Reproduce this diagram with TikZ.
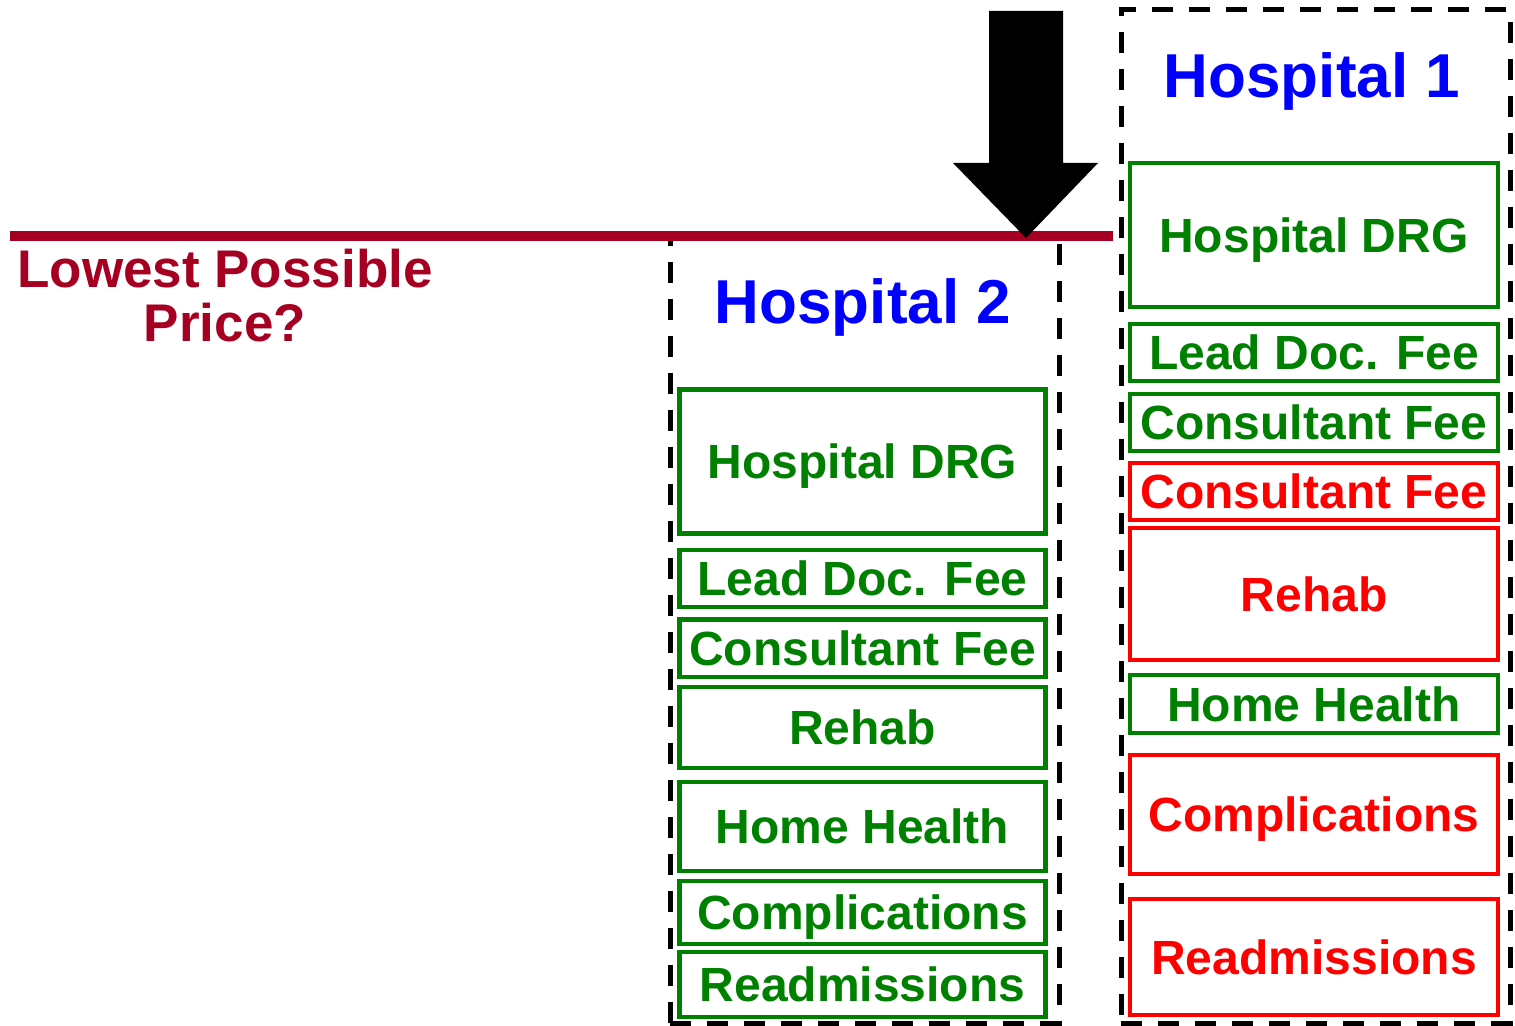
\documentclass[tikz,border=0pt]{standalone}
\usepackage{fontspec}
\setmainfont{Liberation Sans}
\definecolor{lpred}{RGB}{165,0,33}
\definecolor{boxgreen}{RGB}{0,128,0}
\definecolor{boxred}{RGB}{255,0,0}
\definecolor{headblue}{RGB}{0,0,255}
\tikzset{
  itembox/.style={draw, line width=2.4pt, inner sep=0pt, outer sep=0pt,
    font=\fontsize{24pt}{28pt}\selectfont\bfseries, text height=17.2pt, text depth=0pt},
  gbox/.style={itembox, draw=boxgreen, text=boxgreen},
  rbox/.style={itembox, draw=boxred, text=boxred},
  framebox/.style={draw=black, line width=2.5pt, dash pattern=on 10.5pt off 8pt, inner sep=0pt, minimum width=194.5pt},
  headtxt/.style={text=headblue, inner sep=0pt, font=\fontsize{31pt}{37pt}\selectfont\bfseries, text height=22.2pt, text depth=0pt}
}
\begin{document}
\begin{tikzpicture}[x=0.5pt,y=-0.5pt]
\useasboundingbox (0,0) rectangle (1515,1026);
% dashed frames
\node[framebox, minimum height=393.5pt] (frame2) at (864.5,629.5) {};
\node[framebox, minimum height=506.5pt] (frame1) at (1315.5,516.5) {};
% price line
\coordinate (lineL) at (10,236);
\coordinate (lineR) at (1113,236);
\draw[lpred, line width=5pt] (lineL) -- (lineR);
% big arrow
\fill[black] (989,11) -- (1063,11) -- (1063,163) -- (1098,163) -- (1026,238) -- (953,163) -- (989,163) -- cycle;
% label
\node[text=lpred, inner sep=0pt, align=center, anchor=base,
  font=\fontsize{26.5pt}{27pt}\selectfont\bfseries] (lpp) at (225,342) {Lowest Possible\\Price?};
% headings
\node[headtxt] (h1) at (1312,75.5) {Hospital 1};
\node[headtxt] (h2) at (863,301.5) {Hospital 2};
% Hospital 2 boxes
\node[gbox, minimum width=183pt, minimum height=72pt]   (d2)  at (862.5,461.5)  {Hospital DRG};
\node[gbox, minimum width=183pt, minimum height=28.5pt] (l2)  at (862.5,578.5)  {Lead Doc. Fee};
\node[gbox, minimum width=183pt, minimum height=28.75pt](c2)  at (862.5,648.25) {Consultant Fee};
\node[gbox, minimum width=183pt, minimum height=40.5pt] (r2)  at (862.5,727.5)  {Rehab};
\node[gbox, minimum width=183pt, minimum height=44.5pt] (hh2) at (862.5,826.5)  {Home Health};
\node[gbox, minimum width=183pt, minimum height=31.5pt] (cp2) at (862.5,912.5)  {Complications};
\node[gbox, minimum width=183pt, minimum height=32.5pt] (ra2) at (862.5,984.5)  {Readmissions};
% Hospital 1 boxes
\node[gbox, minimum width=184pt, minimum height=72pt]   (d1)  at (1314,235)   {Hospital DRG};
\node[gbox, minimum width=184pt, minimum height=28.5pt] (l1)  at (1314,352.5) {Lead Doc. Fee};
\node[gbox, minimum width=184pt, minimum height=28.5pt] (c1)  at (1314,422.5) {Consultant Fee};
\node[rbox, minimum width=184pt, minimum height=28.5pt] (c1r) at (1314,491.5) {Consultant Fee};
\node[rbox, minimum width=184pt, minimum height=66pt]   (r1)  at (1314,594)   {Rehab};
\node[gbox, minimum width=184pt, minimum height=29pt]   (hh1) at (1314,704)   {Home Health};
\node[rbox, minimum width=184pt, minimum height=59.5pt] (cp1) at (1314,814.5) {Complications};
\node[rbox, minimum width=184pt, minimum height=58pt]   (ra1) at (1314,957)   {Readmissions};
\end{tikzpicture}
\end{document}
